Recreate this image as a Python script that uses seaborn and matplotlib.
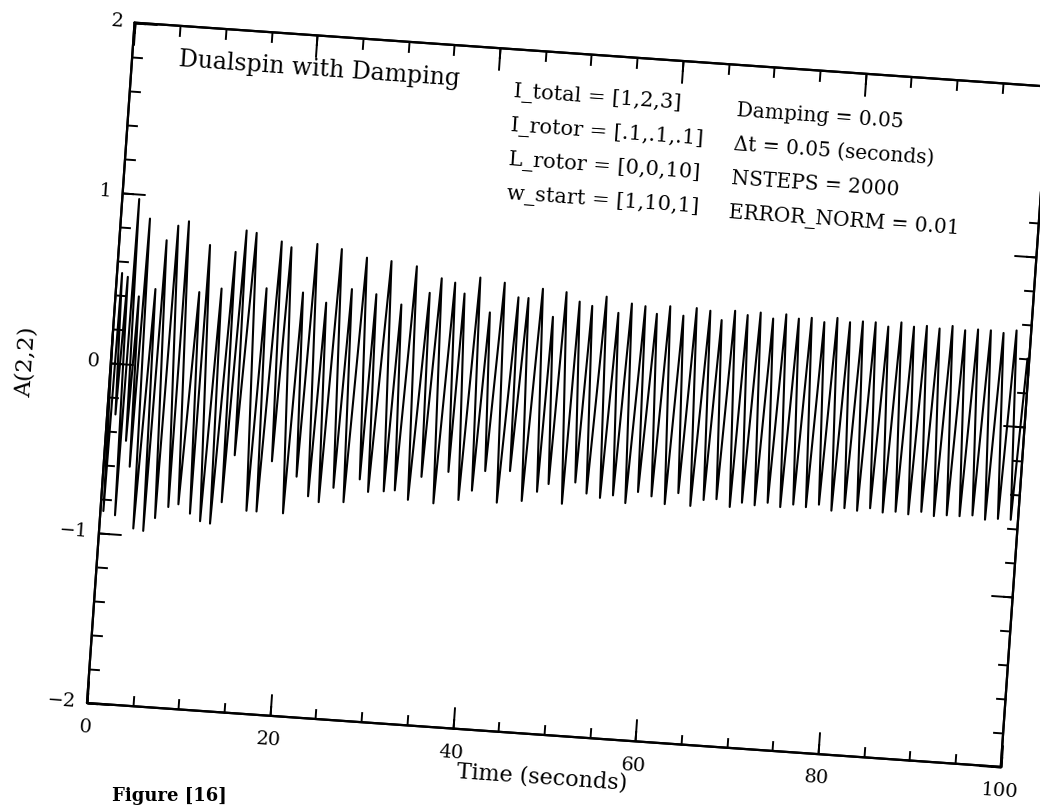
import pandas as pd
import seaborn as sns
import matplotlib.pyplot as plt
from matplotlib.transforms import Affine2D
from mpl_toolkits.axisartist import floating_axes
from mpl_toolkits.axisartist.grid_finder import FixedLocator, DictFormatter

# 1 Values (time in seconds, A(2,2))
peak_t = [0.55, 1.20, 1.85, 2.55, 3.17, 4.30, 5.15, 6.31, 7.44, 9.10,
          9.91, 11.50, 12.75, 13.79, 14.90, 16.40, 17.70, 18.80, 20.40, 21.60,
          23.00, 24.30, 25.70, 27.10, 28.40, 29.80, 31.20, 32.60, 34.20, 35.40,
          36.90, 38.00, 39.60, 40.90, 42.30, 43.90, 45.00, 46.50, 47.80, 49.10,
          50.60, 52.00, 53.50, 54.90, 56.30, 57.80, 59.10, 60.50, 62.00, 63.40,
          64.90, 66.20, 67.60, 69.00, 70.40, 71.80, 73.20, 74.60, 76.00, 77.40,
          78.80, 80.20, 81.60, 83.00, 84.40, 85.80, 87.20, 88.60, 90.00, 91.40,
          92.80, 94.20, 95.60, 97.00, 98.40, 99.80]
peak_v = [0.53, 0.51, 0.97, 0.40, 0.86, 0.45, 0.74, 0.83, 0.86, 0.45,
          0.73, 0.48, 0.70, 0.83, 0.82, 0.50, 0.78, 0.75, 0.49, 0.78,
          0.44, 0.76, 0.53, 0.72, 0.51, 0.71, 0.46, 0.69, 0.54, 0.63,
          0.61, 0.55, 0.65, 0.45, 0.63, 0.55, 0.55, 0.61, 0.45, 0.60,
          0.55, 0.53, 0.59, 0.50, 0.56, 0.55, 0.51, 0.56, 0.51, 0.56,
          0.55, 0.50, 0.56, 0.54, 0.56, 0.53, 0.56, 0.54, 0.55, 0.53,
          0.56, 0.54, 0.55, 0.55, 0.53, 0.56, 0.54, 0.55, 0.54, 0.56,
          0.54, 0.55, 0.55, 0.54, 0.56, 0.40]
trough_t = [0.32, 0.90, 1.62, 2.25, 2.85, 3.71, 4.81, 6.00, 7.36, 8.44,
            9.77, 10.93, 12.03, 13.14, 14.20, 15.90, 17.00, 18.30, 19.90, 21.10,
            22.50, 23.70, 25.20, 26.40, 28.00, 29.00, 30.70, 31.90, 33.40, 34.70,
            36.20, 37.60, 38.90, 40.30, 41.60, 43.10, 44.30, 45.80, 47.40, 48.60,
            50.20, 51.50, 52.80, 54.30, 55.70, 57.10, 58.40, 59.90, 61.40, 62.80,
            64.20, 65.60, 67.00, 68.50, 69.80, 71.20, 72.60, 74.00, 75.40, 76.80,
            78.20, 79.60, 81.00, 82.40, 83.80, 85.20, 86.60, 88.00, 89.40, 90.80,
            92.20, 93.60, 95.00, 96.40, 97.80, 99.20]
trough_v = [-0.87, -0.30, -0.89, -0.45, -0.60, -0.96, -0.97, -0.89, -0.82, -0.80,
            -0.85, -0.89, -0.90, -0.77, -0.49, -0.81, -0.81, -0.51, -0.81, -0.59,
            -0.70, -0.73, -0.64, -0.72, -0.58, -0.65, -0.64, -0.63, -0.68, -0.54,
            -0.69, -0.50, -0.66, -0.60, -0.48, -0.66, -0.47, -0.64, -0.58, -0.53,
            -0.64, -0.51, -0.57, -0.59, -0.57, -0.61, -0.54, -0.56, -0.60, -0.53,
            -0.60, -0.56, -0.55, -0.59, -0.56, -0.57, -0.55, -0.57, -0.55, -0.56,
            -0.54, -0.57, -0.55, -0.56, -0.54, -0.56, -0.55, -0.56, -0.54, -0.56,
            -0.55, -0.55, -0.54, -0.56, -0.55, -0.55]
edge_t = [0.0, 100.0]
edge_v = [0.20, 0.30]

x_major = [0, 20, 40, 60, 80, 100]
x_labels = ["0", "20", "40", "60", "80", "100"]
x_minor = [0, 5, 10, 15, 20, 25, 30, 35, 40, 45, 50,
           55, 60, 65, 70, 75, 80, 85, 90, 95, 100]
y_major = [-2, -1, 0, 1, 2]
y_labels = ["\u22122", "\u22121", "0", "1", "2"]
y_minor = [-2.0, -1.8, -1.6, -1.4, -1.2, -1.0, -0.8, -0.6, -0.4, -0.2, 0.0,
           0.2, 0.4, 0.6, 0.8, 1.0, 1.2, 1.4, 1.6, 1.8, 2.0]

title = "Dualspin with Damping"
params_left = ["I_total = [1,2,3]", "I_rotor = [.1,.1,.1]",
               "L_rotor = [0,0,10]", "w_start = [1,10,1]"]
params_right = ["Damping = 0.05", "\u0394t = 0.05 (seconds)",
                "NSTEPS = 2000", "ERROR_NORM = 0.01"]
caption = "Figure [16]"

df = pd.DataFrame({"t": edge_t + peak_t + trough_t,
                   "A": edge_v + peak_v + trough_v}).sort_values("t")

# 2 Style
sns.set_theme(style="white")
plt.rcParams["font.family"] = ["DejaVu Serif"]
fig = plt.figure(figsize=(10.4, 8.07), dpi=100)

# the scan is tilted ~4 degrees clockwise: data -> figure pixels
tr = Affine2D().translate(0, 2).scale(9.16, 170.5).rotate_deg(-4).translate(87, 104)


def make_axes(xlocs, ylocs, xfmt=None, yfmt=None):
    helper = floating_axes.GridHelperCurveLinear(
        tr, extremes=(0, 100, -2, 2),
        grid_locator1=FixedLocator(xlocs), grid_locator2=FixedLocator(ylocs),
        tick_formatter1=xfmt, tick_formatter2=yfmt)
    a = fig.add_axes([0, 0, 1, 1], axes_class=floating_axes.FloatingAxes,
                     grid_helper=helper)
    a.axis[:].line.set_linewidth(1.6)
    a.axis[:].line.set_edgecolor("black")
    a.axis[:].major_ticks.set_color("black")
    a.axis[:].major_ticks.set_markeredgewidth(1.4)
    return a


ax = make_axes(x_major, y_major,
               DictFormatter(dict(zip(x_major, x_labels))),
               DictFormatter(dict(zip(y_major, y_labels))))
ax.axis[:].major_ticks.set_ticksize(16)
for side in ["bottom", "left"]:
    ax.axis[side].major_ticklabels.set_fontsize(14)
    ax.axis[side].major_ticklabels.set_color("black")
ax.axis["bottom"].major_ticklabels.set_pad(11)
ax.axis["left"].major_ticklabels.set_pad(8)

ax_minor = make_axes(x_minor, y_minor)
ax_minor.patch.set_visible(False)
ax_minor.axis[:].major_ticks.set_ticksize(7.5)
ax_minor.axis[:].major_ticklabels.set_visible(False)

# 3 Draw the signal on the tilted data frame
aux = ax.get_aux_axes(tr)
sns.lineplot(data=df, x="t", y="A", ax=aux, color="black", linewidth=1.5,
             estimator=None, sort=False)

txt = dict(rotation=-4, rotation_mode="anchor", ha="left", va="baseline", color="black")
aux.text(5.06, 1.764, title, fontsize=17, **txt)
for i, s in enumerate(params_left):
    aux.text(41.8, 1.72 - 0.2 * i, s, fontsize=15, **txt)
for i, s in enumerate(params_right):
    aux.text(66.2, 1.70 - 0.2 * i, s, fontsize=14.5, **txt)

aux.text(50.15, -2.248, "Time (seconds)", fontsize=16, rotation=-4,
         rotation_mode="anchor", ha="center", va="center", color="black")
aux.text(-9.24, -0.03, "A(2,2)", fontsize=16.5, rotation=86,
         rotation_mode="anchor", ha="center", va="center", color="black")

fig.text(112 / 1040, 2 / 807, caption, fontsize=13, fontweight="bold",
         ha="left", va="bottom", color="black")

for a in (ax, ax_minor):
    a.set_xlim(0, 1040)
    a.set_ylim(0, 807)

fig.savefig("out.png", dpi=100, facecolor="white")
